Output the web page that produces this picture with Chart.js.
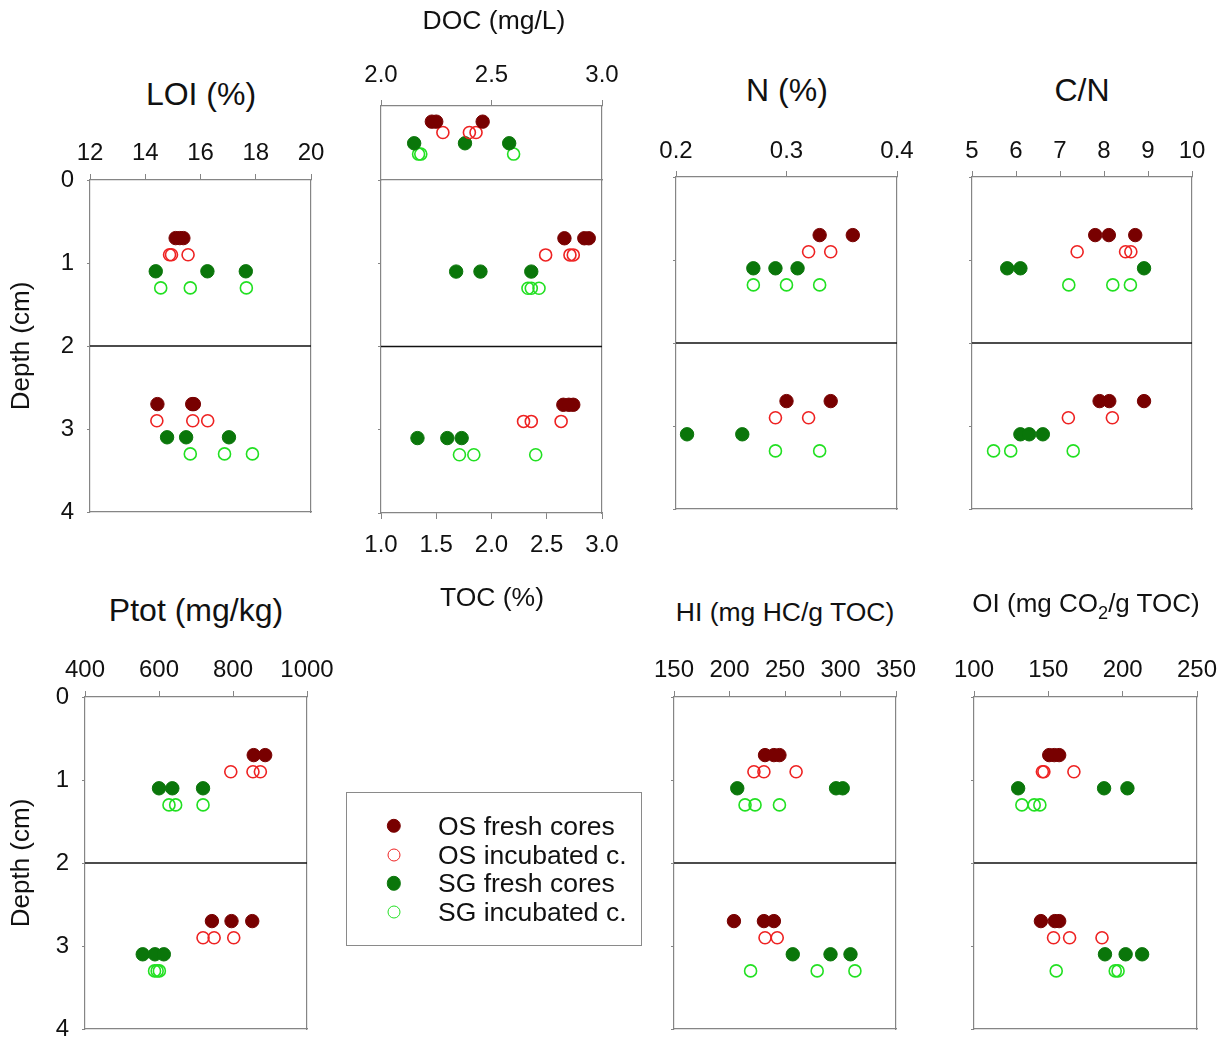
<!DOCTYPE html>
<html>
<head>
<meta charset="utf-8">
<script src="https://cdn.jsdelivr.net/npm/chart.js@4/dist/chart.umd.min.js"></script>
<style>
  html, body { margin: 0; padding: 0; background: #fff; }
  body { width: 1224px; height: 1039px; position: relative; overflow: hidden;
         font-family: "Liberation Sans", Arial, sans-serif; color: #111; }
  .ttl { position: absolute; transform: translate(-50%, -50%); white-space: nowrap; line-height: 1; }
  .ttl sub { font-size: 70%; vertical-align: -0.38em; line-height: 0; }
  #legend { position: absolute; left: 346px; top: 792px; width: 296px; height: 154px;
            border: 1.5px solid #8a8a8a; box-sizing: border-box; }
  #legend .row { position: absolute; left: 0; height: 0; }
  #legend .mk { position: absolute; border-radius: 50%; box-sizing: border-box; transform: translate(-50%, -50%); }
  #legend .lb { position: absolute; transform: translateY(-50%); white-space: nowrap; font-size: 26.5px; line-height: 1; }
</style>
</head>
<body>
<script>
// Sediment cores: overlying sea water (OS) and seagrass (SG), fresh and incubated.
const seriesNames = ['OS fresh cores', 'OS incubated c.', 'SG fresh cores', 'SG incubated c.'];
// depth (cm) at which each series is plotted in the 0–2 cm and 2–4 cm layers
const layerDepths = [[0.7, 2.7], [0.9, 2.9], [1.1, 3.1], [1.3, 3.3]];
const layerBoundary = 2;

// LOI (%)
const loiOSFresh = [[15.10, 15.25, 15.38], [14.44, 15.70, 15.76]];
const loiOSInc   = [[14.88, 14.95, 15.55], [14.42, 15.72, 16.26]];
const loiSGFresh = [[14.38, 16.25, 17.64], [14.79, 15.48, 17.03]];
const loiSGInc   = [[14.56, 15.63, 17.66], [15.63, 16.87, 17.88]];

// TOC (%)
const tocOSFresh = [[2.66, 2.84, 2.88], [2.65, 2.70, 2.74]];
const tocOSInc   = [[2.49, 2.71, 2.74], [2.29, 2.36, 2.63]];
const tocSGFresh = [[1.68, 1.90, 2.36], [1.33, 1.60, 1.73]];
const tocSGInc   = [[2.33, 2.36, 2.43], [1.71, 1.84, 2.40]];

// DOC (mg/L) in the overlying water, one row per series
const docOSFresh = [2.23, 2.25, 2.46];
const docOSInc   = [2.28, 2.40, 2.43];
const docSGFresh = [2.15, 2.38, 2.58];
const docSGInc   = [2.17, 2.18, 2.60];

// N (%)
const nOSFresh = [[0.33, 0.36], [0.30, 0.34]];
const nOSInc   = [[0.32, 0.34], [0.29, 0.32]];
const nSGFresh = [[0.27, 0.29, 0.31], [0.21, 0.26]];
const nSGInc   = [[0.27, 0.30, 0.33], [0.29, 0.33]];

// C/N
const cnOSFresh = [[7.80, 8.11, 8.71], [7.90, 8.12, 8.91]];
const cnOSInc   = [[7.39, 8.49, 8.61], [7.19, 8.19]];
const cnSGFresh = [[5.80, 6.10, 8.91], [6.10, 6.30, 6.61]];
const cnSGInc   = [[7.20, 8.20, 8.60], [5.49, 5.88, 7.30]];

// Ptot (mg/kg)
const pOSFresh = [[856, 887], [743, 796, 852]];
const pOSInc   = [[794, 854, 874], [719, 749, 802]];
const pSGFresh = [[600, 636, 719], [556, 589, 613]];
const pSGInc   = [[627, 645, 719], [588, 595, 601]];

// HI (mg HC/g TOC)
const hiOSFresh = [[232, 240, 245], [204, 231, 240]];
const hiOSInc   = [[222, 231, 260], [232, 243]];
const hiSGFresh = [[207, 296, 302], [257, 291, 309]];
const hiSGInc   = [[214, 223, 245], [219, 279, 313]];

// OI (mg CO2/g TOC)
const oiOSFresh = [[150.6, 154.0, 157.3], [145.0, 154.4, 157.3]];
const oiOSInc   = [[146.0, 147.0, 167.2], [153.5, 164.3, 186.1]];
const oiSGFresh = [[129.7, 187.5, 203.2], [188.1, 202.0, 213.1]];
const oiSGInc   = [[132.2, 140.5, 144.3], [155.3, 195.0, 196.9]];

const FONT = '"Liberation Sans", Arial, sans-serif';
const TEXT = '#111';
const AXIS_GREY = '#858585';

const seriesStyles = [
  { fill: '#780000', edge: '#780000', radius: 6.7, width: 1 },
  { fill: 'rgba(0,0,0,0)', edge: '#ee2222', radius: 6.0, width: 1.6 },
  { fill: '#0a760a', edge: '#0a760a', radius: 6.7, width: 1 },
  { fill: 'rgba(0,0,0,0)', edge: '#22e022', radius: 6.0, width: 1.6 }
];

function styled(i, points) {
  const s = seriesStyles[i];
  return {
    label: seriesNames[i], data: points,
    pointRadius: s.radius, pointHoverRadius: s.radius,
    pointBackgroundColor: s.fill, pointBorderColor: s.edge, pointBorderWidth: s.width,
    showLine: false
  };
}

function layeredSets(series) {
  return series.map((layers, i) =>
    styled(i, layers.flatMap((vals, k) => vals.map(v => ({ x: v, y: layerDepths[i][k] })))));
}

function rowSets(series) {
  return series.map((vals, i) => styled(i, vals.map(v => ({ x: v, y: i + 1 }))));
}

function frameAxis(position, min, max, size) {
  return {
    type: 'linear', position, min, max,
    ticks: { display: false },
    grid: { drawOnChartArea: false, drawTicks: false, color: AXIS_GREY },
    border: { display: true, color: AXIS_GREY, width: 1.2 },
    afterFit: s => { if (s.isHorizontal()) s.height = size; else s.width = size; }
  };
}

function makePanel(p) {
  const ML = p.ml, MT = p.mt, MR = p.mr, MB = p.mb;
  const W = (p.R - p.L) + ML + MR, H = (p.B - p.T) + MT + MB;
  const c = document.createElement('canvas');
  c.width = W; c.height = H;
  c.style.cssText = `position:absolute;left:${p.L - ML}px;top:${p.T - MT}px;width:${W}px;height:${H}px;`;
  document.body.appendChild(c);

  const datasets = p.sets.slice();
  if (p.boundary) {
    datasets.push({
      data: [{ x: p.xMin, y: layerBoundary }, { x: p.xMax, y: layerBoundary }],
      showLine: true, borderColor: '#111', borderWidth: 1.4, pointRadius: 0, pointHoverRadius: 0, order: 10
    });
  }

  const labelTop = p.xPos === 'top';
  const scales = {
    x: {
      type: 'linear', position: p.xPos, min: p.xMin, max: p.xMax,
      ticks: { stepSize: p.xStep, autoSkip: false, maxRotation: 0, padding: p.tickPad,
               font: { family: FONT, size: p.tickSize }, color: TEXT,
               callback: v => p.dec ? Number(v).toFixed(p.dec) : String(Math.round(v)) },
      grid: { drawOnChartArea: false, drawTicks: true, tickLength: 6, color: AXIS_GREY },
      border: { display: true, color: AXIS_GREY, width: 1.2 },
      afterFit: s => { s.height = labelTop ? MT : MB; }
    },
    y: {
      type: 'linear', position: 'left', reverse: true, min: p.yMin, max: p.yMax,
      ticks: { display: !!p.yLabels, stepSize: 1, padding: 13,
               font: { family: FONT, size: p.tickSize }, color: TEXT },
      grid: { drawOnChartArea: false, drawTicks: p.yTicks !== false, tickLength: 3, color: AXIS_GREY },
      border: { display: true, color: AXIS_GREY, width: 1.2 },
      title: p.yLabels ? { display: true, text: 'Depth (cm)', color: TEXT,
                           font: { family: FONT, size: 26 }, padding: { top: 6, bottom: 0 } }
                       : { display: false },
      afterFit: s => { s.width = ML; }
    },
    y2: frameAxis('right', p.yMin, p.yMax, MR)
  };
  if (p.frameOpposite !== false) {
    scales.x2 = frameAxis(labelTop ? 'bottom' : 'top', p.xMin, p.xMax, labelTop ? MB : MT);
  }

  new Chart(c, {
    type: 'scatter',
    data: { datasets },
    options: {
      responsive: false, animation: false, devicePixelRatio: 1,
      layout: { autoPadding: false, padding: p.frameOpposite === false ? { bottom: MB } : 0 },
      plugins: { legend: { display: false }, tooltip: { enabled: false } },
      events: [],
      scales
    }
  });

  const t = document.createElement('div');
  t.className = 'ttl';
  t.style.left = p.titleX + 'px';
  t.style.top = p.titleY + 'px';
  t.style.fontSize = p.titleSize + 'px';
  t.innerHTML = p.title;
  document.body.appendChild(t);
}

const depthPanel = { yMin: 0, yMax: 4, boundary: true, mt: 55, mb: 40, mr: 40, ml: 40, tickSize: 24, tickPad: 6.5 };

makePanel({ ...depthPanel, L: 90, T: 180, R: 311, B: 512, ml: 90,
  xMin: 12, xMax: 20, xStep: 2, xPos: 'top', yLabels: true,
  sets: layeredSets([loiOSFresh, loiOSInc, loiSGFresh, loiSGInc]),
  title: 'LOI (%)', titleX: 201, titleY: 94, titleSize: 32 });

makePanel({ ...depthPanel, L: 381, T: 180, R: 602, B: 513, mb: 60, tickPad: 11.5,
  xMin: 1, xMax: 3, xStep: 0.5, dec: 1, xPos: 'bottom',
  sets: layeredSets([tocOSFresh, tocOSInc, tocSGFresh, tocSGInc]),
  title: 'TOC (%)', titleX: 492, titleY: 597, titleSize: 26.5 });

makePanel({ L: 381, T: 106, R: 602, B: 180, ml: 40, mt: 55, mr: 40, mb: 4, tickSize: 24, tickPad: 10.5,
  yMin: -0.45, yMax: 6.4, yTicks: false, frameOpposite: false,
  xMin: 2, xMax: 3, xStep: 0.5, dec: 1, xPos: 'top',
  sets: rowSets([docOSFresh, docOSInc, docSGFresh, docSGInc]),
  title: 'DOC (mg/L)', titleX: 494, titleY: 20, titleSize: 26.5 });

makePanel({ ...depthPanel, L: 676, T: 177, R: 897, B: 509, tickPad: 5.6,
  xMin: 0.2, xMax: 0.4, xStep: 0.1, dec: 1, xPos: 'top',
  sets: layeredSets([nOSFresh, nOSInc, nSGFresh, nSGInc]),
  title: 'N (%)', titleX: 787, titleY: 90, titleSize: 32 });

makePanel({ ...depthPanel, L: 972, T: 177, R: 1192, B: 509, tickPad: 5.6,
  xMin: 5, xMax: 10, xStep: 1, xPos: 'top',
  sets: layeredSets([cnOSFresh, cnOSInc, cnSGFresh, cnSGInc]),
  title: 'C/N', titleX: 1082, titleY: 90, titleSize: 32 });

makePanel({ ...depthPanel, L: 85, T: 697, R: 307, B: 1029, ml: 85,
  xMin: 400, xMax: 1000, xStep: 200, xPos: 'top', yLabels: true,
  sets: layeredSets([pOSFresh, pOSInc, pSGFresh, pSGInc]),
  title: 'Ptot (mg/kg)', titleX: 196, titleY: 610, titleSize: 32 });

makePanel({ ...depthPanel, L: 674, T: 697, R: 896, B: 1029,
  xMin: 150, xMax: 350, xStep: 50, xPos: 'top',
  sets: layeredSets([hiOSFresh, hiOSInc, hiSGFresh, hiSGInc]),
  title: 'HI (mg HC/g TOC)', titleX: 785, titleY: 612, titleSize: 26.5 });

makePanel({ ...depthPanel, L: 974, T: 697, R: 1197, B: 1029, mr: 27,
  xMin: 100, xMax: 250, xStep: 50, xPos: 'top',
  sets: layeredSets([oiOSFresh, oiOSInc, oiSGFresh, oiSGInc]),
  title: 'OI (mg CO<sub>2</sub>/g TOC)', titleX: 1086, titleY: 603, titleSize: 26 });

// legend box
const legend = document.createElement('div');
legend.id = 'legend';
document.body.appendChild(legend);
seriesNames.forEach((name, i) => {
  const s = seriesStyles[i];
  const row = document.createElement('div');
  row.className = 'row';
  row.style.top = (33 + i * 28.6) + 'px';
  const mk = document.createElement('div');
  mk.className = 'mk';
  const d = s.radius * 2 + 1;
  mk.style.cssText = `left:47px;top:0;width:${d}px;height:${d}px;background:${s.fill};border:${s.width}px solid ${s.edge};`;
  const lb = document.createElement('div');
  lb.className = 'lb';
  lb.style.left = '91px';
  lb.textContent = name;
  row.appendChild(mk);
  row.appendChild(lb);
  legend.appendChild(row);
});
</script>
</body>
</html>
